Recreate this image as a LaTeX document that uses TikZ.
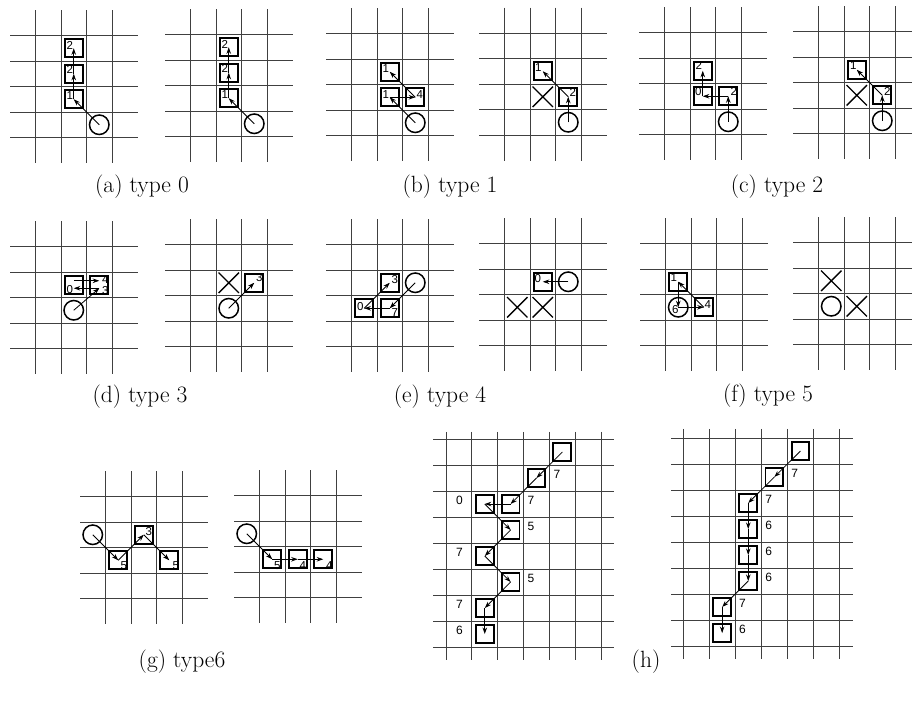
\documentclass[tikz,border=0pt]{standalone}
\usepackage{fontspec}
\newfontfamily\labfont{Liberation Sans}
\usetikzlibrary{arrows.meta,shapes.misc}

\tikzset{
  gridline/.style={draw=black!75, line width=0.8pt},
  cellbox/.style={draw, fill=white, line width=1.9pt, minimum size=17.8pt, inner sep=0pt},
  token/.style={draw, fill=white, circle, line width=1.5pt, minimum size=19.5pt, inner sep=0pt},
  blocked/.style={draw, cross out, line width=1.4pt, minimum size=19pt, inner sep=0pt},
  link/.style={-{Stealth[length=6.5pt,width=4.5pt]}, line width=0.8pt},
  code/.style={font=\labfont\fontsize{11.5}{12}\selectfont, inner sep=0pt},
  hcode/.style={font=\labfont\fontsize{12}{12}\selectfont, inner sep=0pt},
  caption/.style={font=\fontsize{23.5}{28}\selectfont, anchor=base, inner sep=0pt},
  panel/.style={x=25.5pt, y=-25.5pt},
}

% 5 x 6 cell window: four inner vertical lines, five inner horizontal lines
\newcommand\chaingrid{%
  \foreach \i in {1,...,4} \draw[gridline] (\i,0) -- (\i,6);
  \foreach \j in {1,...,5} \draw[gridline] (0,\j) -- (5,\j);
}

\begin{document}
\begin{tikzpicture}[x=1pt, y=-1pt]
\useasboundingbox (0,0) rectangle (912,705);
\clip (0,0) rectangle (912,705);

% ---------- (a) type 0 ----------
\begin{scope}[shift={(10pt,-10pt)}, panel]
  \chaingrid
  \node[token] (aLc) at (3.5,4.5) {};
  \node[cellbox] (aL1) at (2.5,3.5) {};
  \node[cellbox] (aL2) at (2.5,2.5) {};
  \node[cellbox] (aL3) at (2.5,1.5) {};
  \draw[link] (aLc.center) -- (aL1.center);
  \draw[link] (aL1.center) -- (aL2.center);
  \draw[link] (aL2.center) -- (aL3.center);
  \node[code] at ([shift={(-4pt,4pt)}]aL1.center) {1};
  \node[code] at ([shift={(-4pt,4pt)}]aL2.center) {2};
  \node[code] at ([shift={(-4pt,3pt)}]aL3.center) {2};
\end{scope}
\begin{scope}[shift={(165pt,-9pt)}, panel]
  \chaingrid
  \node[token] (aRc) at (3.5,4.5) {};
  \node[cellbox] (aR1) at (2.5,3.5) {};
  \node[cellbox] (aR2) at (2.5,2.5) {};
  \node[cellbox] (aR3) at (2.5,1.5) {};
  \draw[link] (aRc.center) -- (aR1.center);
  \draw[link] (aR1.center) -- (aR2.center);
  \draw[link] (aR2.center) -- (aR3.center);
  \node[code] at ([shift={(-4pt,4pt)}]aR1.center) {1};
  \node[code] at ([shift={(-4pt,4pt)}]aR2.center) {2};
  \node[code] at ([shift={(-4pt,3pt)}]aR3.center) {2};
\end{scope}
\node[caption] (capa) at (142,192) {(a) type 0};

% ---------- (b) type 1 ----------
\begin{scope}[shift={(326pt,-8pt)}, panel]
  \chaingrid
  \node[token] (bLc) at (3.5,4.5) {};
  \node[cellbox] (bL1) at (2.5,3.5) {};
  \node[cellbox] (bL2) at (3.5,3.5) {};
  \node[cellbox] (bL3) at (2.5,2.5) {};
  \draw[link] (bLc.center) -- (bL1.center);
  \draw[link] (bL1.center) -- (bL2.center);
  \draw[link] (bL2.center) -- (bL3.center);
  \node[code] at ([shift={(-4pt,3pt)}]bL1.center) {1};
  \node[code] at ([shift={(4.5pt,3pt)}]bL2.center) {4};
  \node[code] at ([shift={(-4pt,3.5pt)}]bL3.center) {1};
\end{scope}
\begin{scope}[shift={(479pt,-7.5pt)}, panel]
  \chaingrid
  \node[token] (bRc) at (3.5,4.5) {};
  \node[cellbox] (bR1) at (3.5,3.5) {};
  \node[cellbox] (bR2) at (2.5,2.5) {};
  \node[blocked] (bRx) at (2.5,3.5) {};
  \draw[link] (bRc.center) -- (bR1.center);
  \draw[link] (bR1.center) -- (bR2.center);
  \node[code] at ([shift={(4.5pt,4pt)}]bR1.center) {2};
  \node[code] at ([shift={(-4.5pt,4pt)}]bR2.center) {1};
\end{scope}
\node[caption] (capb) at (450,192) {(b) type 1};

% ---------- (c) type 2 ----------
\begin{scope}[shift={(639pt,-7pt)}, panel]
  \chaingrid
  \node[token] (cLc) at (3.5,4.5) {};
  \node[cellbox] (cL1) at (3.5,3.5) {};
  \node[cellbox] (cL2) at (2.5,3.5) {};
  \node[cellbox] (cL3) at (2.5,2.5) {};
  \draw[link] (cLc.center) -- (cL1.center);
  \draw[link] (cL1.center) -- (cL2.center);
  \draw[link] (cL2.center) -- (cL3.center);
  \node[code] at ([shift={(5.5pt,5pt)}]cL1.center) {2};
  \node[code] at ([shift={(-4.5pt,4.5pt)}]cL2.center) {0};
  \node[code] at ([shift={(-4pt,5pt)}]cL3.center) {2};
\end{scope}
\begin{scope}[shift={(793pt,-6pt)}, panel]
  \chaingrid
  \node[token] (cRc) at (3.5,4.5) {};
  \node[cellbox] (cR1) at (3.5,3.5) {};
  \node[cellbox] (cR2) at (2.5,2.5) {};
  \node[blocked] (cRx) at (2.5,3.5) {};
  \draw[link] (cRc.center) -- (cR1.center);
  \draw[link] (cR1.center) -- (cR2.center);
  \node[code] at ([shift={(5pt,3.5pt)}]cR1.center) {2};
  \node[code] at ([shift={(-3.5pt,4pt)}]cR2.center) {1};
\end{scope}
\node[caption] (capc) at (777,192) {(c) type 2};

% ---------- (d) type 3 ----------
\begin{scope}[shift={(10pt,-221pt)}, panel]
  \chaingrid
  \node[token] (dLc) at (2.5,3.5) {};
  \node[cellbox] (dL1) at (3.5,2.5) {};
  \node[cellbox] (dL2) at (2.5,2.5) {};
  \draw[link] (dLc.center) -- ([yshift=-3.5pt]dL1.center);
  \draw[link] ([yshift=-3.5pt]dL1.center) -- ([yshift=-3.5pt]dL2.center);
  \draw[link] ([yshift=4pt]dL2.center) -- ([yshift=4pt]dL1.center);
  \node[code] at ([shift={(6pt,5pt)}]dL1.center) {4};
  \node[code] at ([shift={(6pt,-5.5pt)}]dL1.center) {3};
  \node[code] at ([shift={(-4pt,-5pt)}]dL2.center) {0};
\end{scope}
\begin{scope}[shift={(165pt,-219pt)}, panel]
  \chaingrid
  \node[token] (dRc) at (2.5,3.5) {};
  \node[cellbox] (dR1) at (3.5,2.5) {};
  \node[blocked] (dRx) at (2.5,2.5) {};
  \draw[link] (dRc.center) -- (dR1.center);
  \node[code] at ([shift={(5pt,5pt)}]dR1.center) {3};
\end{scope}
\node[caption] (capd) at (140,402) {(d) type 3};

% ---------- (e) type 4 ----------
\begin{scope}[shift={(326pt,-219pt)}, panel]
  \chaingrid
  \node[token] (eLc) at (3.5,2.5) {};
  \node[cellbox] (eL1) at (2.5,3.5) {};
  \node[cellbox] (eL2) at (1.5,3.5) {};
  \node[cellbox] (eL3) at (2.5,2.5) {};
  \draw[link] (eLc.center) -- (eL1.center);
  \draw[link] (eL1.center) -- (eL2.center);
  \draw[link] (eL2.center) -- (eL3.center);
  \node[code] at ([shift={(5pt,-4pt)}]eL1.center) {7};
  \node[code] at ([shift={(-4pt,2pt)}]eL2.center) {0};
  \node[code] at ([shift={(5pt,3pt)}]eL3.center) {3};
\end{scope}
\begin{scope}[shift={(479pt,-218pt)}, panel]
  \chaingrid
  \node[token] (eRc) at (3.5,2.5) {};
  \node[cellbox] (eR1) at (2.5,2.5) {};
  \node[blocked] (eRx1) at (1.5,3.5) {};
  \node[blocked] (eRx2) at (2.5,3.5) {};
  \draw[link] (eRc.center) -- (eR1.center);
  \node[code] at ([shift={(-5pt,3.5pt)}]eR1.center) {0};
\end{scope}
\node[caption] (cape) at (440,402) {(e) type 4};

% ---------- (f) type 5 ----------
\begin{scope}[shift={(640pt,-218pt)}, panel]
  \chaingrid
  \node[token] (fLc) at (1.5,3.5) {};
  \node[cellbox] (fL1) at (2.5,3.5) {};
  \node[cellbox] (fL2) at (1.5,2.5) {};
  \draw[link] (fLc.center) -- (fL1.center);
  \draw[link] (fL1.center) -- (fL2.center);
  \draw[link] (fL2.center) -- (fLc.center);
  \node[code] at ([shift={(4pt,3pt)}]fL1.center) {4};
  \node[code] at ([shift={(-4.5pt,4pt)}]fL2.center) {1};
  \node[code] at ([shift={(-3pt,-2.5pt)}]fLc.center) {6};
\end{scope}
\begin{scope}[shift={(793pt,-217pt)}, panel]
  \chaingrid
  \node[blocked] (fRx1) at (1.5,2.5) {};
  \node[token] (fRc) at (1.5,3.5) {};
  \node[blocked] (fRx2) at (2.5,3.5) {};
\end{scope}
\node[caption] (capf) at (768,401) {(f) type 5};

% ---------- (g) type6 ----------
\begin{scope}[shift={(80pt,-471pt)}, panel]
  \chaingrid
  \node[token] (gLc) at (0.5,2.5) {};
  \node[cellbox] (gL1) at (1.5,3.5) {};
  \node[cellbox] (gL2) at (2.5,2.5) {};
  \node[cellbox] (gL3) at (3.5,3.5) {};
  \draw[link] (gLc.center) -- (gL1.center);
  \draw[link] (gL1.center) -- (gL2.center);
  \draw[link] (gL2.center) -- (gL3.center);
  \node[code] at ([shift={(5.5pt,-5pt)}]gL1.center) {5};
  \node[code] at ([shift={(5pt,3.5pt)}]gL2.center) {3};
  \node[code] at ([shift={(6.5pt,-5pt)}]gL3.center) {5};
\end{scope}
\begin{scope}[shift={(234pt,-470pt)}, panel]
  \chaingrid
  \node[token] (gRc) at (0.5,2.5) {};
  \node[cellbox] (gR1) at (1.5,3.5) {};
  \node[cellbox] (gR2) at (2.5,3.5) {};
  \node[cellbox] (gR3) at (3.5,3.5) {};
  \draw[link] (gRc.center) -- (gR1.center);
  \draw[link] (gR1.center) -- (gR2.center);
  \draw[link] (gR2.center) -- (gR3.center);
  \node[code] at ([shift={(5pt,-6pt)}]gR1.center) {5};
  \node[code] at ([shift={(5pt,-6pt)}]gR2.center) {4};
  \node[code] at ([shift={(6pt,-6pt)}]gR3.center) {4};
\end{scope}
\node[caption] (capg) at (182,667) {(g) type6};

% ---------- (h) ----------
\begin{scope}[shift={(446pt,-439pt)}, x=25.85pt, y=-26pt]
  \foreach \i in {0,...,6} \draw[gridline] (\i,-0.27) -- (\i,8.5);
  \foreach \j in {0,...,8} \draw[gridline] (-0.5,\j) -- (6.5,\j);
  \node[cellbox] (hL0) at (4.5,0.5) {};
  \node[cellbox] (hL1) at (3.5,1.5) {};
  \node[cellbox] (hL2) at (2.5,2.5) {};
  \node[cellbox] (hL3) at (1.5,2.5) {};
  \node[cellbox] (hL4) at (2.5,3.5) {};
  \node[cellbox] (hL5) at (1.5,4.5) {};
  \node[cellbox] (hL6) at (2.5,5.5) {};
  \node[cellbox] (hL7) at (1.5,6.5) {};
  \node[cellbox] (hL8) at (1.5,7.5) {};
  \foreach \a/\b in {0/1,1/2,2/3,3/4,4/5,5/6,6/7,7/8}
    \draw[link] (hL\a.center) -- (hL\b.center);
  \node[hcode, anchor=west] at ([shift={(7pt,3.5pt)}]hL1.east) {7};
  \node[hcode, anchor=west] at ([shift={(7pt,3.5pt)}]hL2.east) {7};
  \node[hcode, anchor=east] at ([shift={(-12pt,3.5pt)}]hL3.west) {0};
  \node[hcode, anchor=west] at ([shift={(7pt,3.5pt)}]hL4.east) {5};
  \node[hcode, anchor=east] at ([shift={(-12pt,3.5pt)}]hL5.west) {7};
  \node[hcode, anchor=west] at ([shift={(7pt,3.5pt)}]hL6.east) {5};
  \node[hcode, anchor=east] at ([shift={(-12pt,3.5pt)}]hL7.west) {7};
  \node[hcode, anchor=east] at ([shift={(-12pt,3.5pt)}]hL8.west) {6};
\end{scope}
\begin{scope}[shift={(683pt,-438pt)}, x=26.1pt, y=-26pt]
  \foreach \i in {0,...,6} \draw[gridline] (\i,-0.35) -- (\i,8.5);
  \foreach \j in {0,...,8} \draw[gridline] (-0.46,\j) -- (6.5,\j);
  \node[cellbox] (hR0) at (4.5,0.5) {};
  \node[cellbox] (hR1) at (3.5,1.5) {};
  \node[cellbox] (hR2) at (2.5,2.5) {};
  \node[cellbox] (hR3) at (2.5,3.5) {};
  \node[cellbox] (hR4) at (2.5,4.5) {};
  \node[cellbox] (hR5) at (2.5,5.5) {};
  \node[cellbox] (hR6) at (1.5,6.5) {};
  \node[cellbox] (hR7) at (1.5,7.5) {};
  \foreach \a/\b in {0/1,1/2,2/3,3/4,4/5,5/6,6/7}
    \draw[link] (hR\a.center) -- (hR\b.center);
  \foreach \k/\t in {1/7,2/7,3/6,4/6,5/6,6/7,7/6}
    \node[hcode, anchor=west] at ([shift={(7pt,3.5pt)}]hR\k.east) {\t};
\end{scope}
\node[caption] (caph) at (646,667) {(h)};
\end{tikzpicture}
\end{document}
